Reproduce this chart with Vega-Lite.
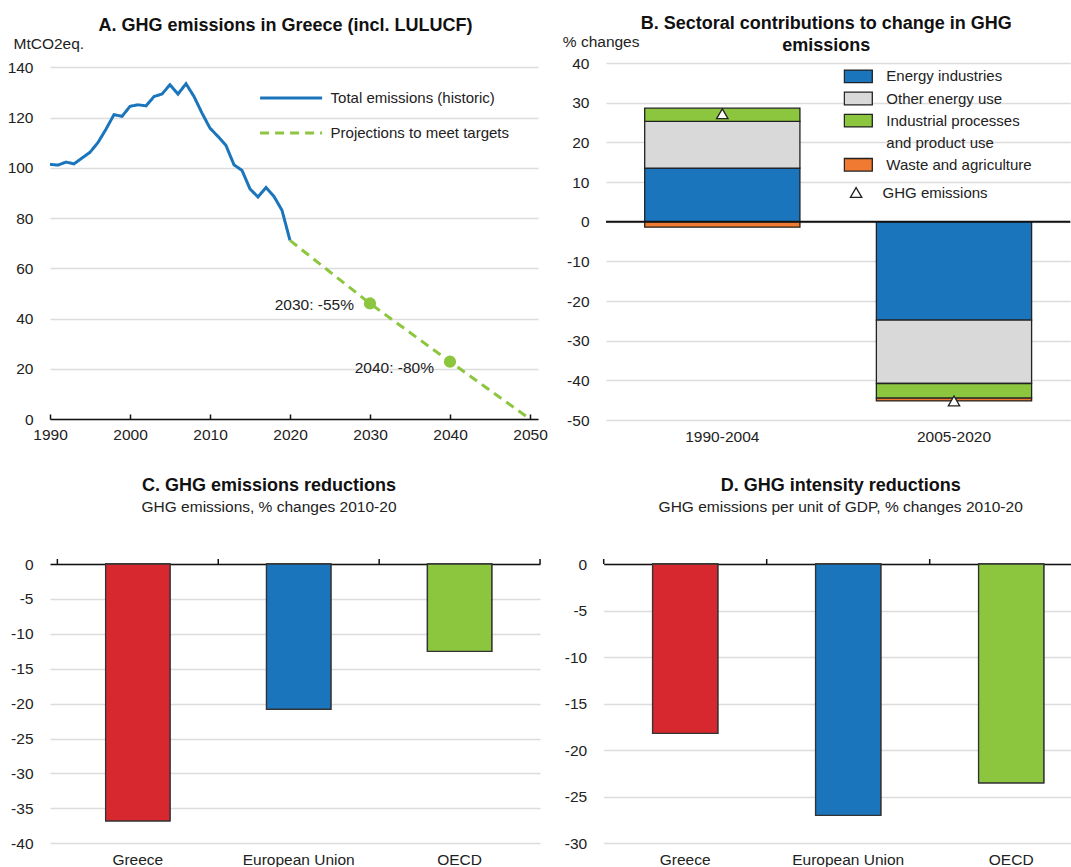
{
  "$schema": "https://vega.github.io/schema/vega-lite/v6.json",
  "background": "white",
  "padding": {"left": 5, "top": 14, "right": 0, "bottom": 0},
  "config": {
    "view": {"stroke": null},
    "font": "Liberation Sans",
    "axis": {"labelFont": "Liberation Sans", "labelFontSize": 15.5, "labelColor": "#222", "labelOverlap": false, "titleFont": "Liberation Sans", "titleFontSize": 15.5, "titleFontWeight": "normal", "titleColor": "#222", "gridColor": "#dcdcdc", "gridWidth": 1.5},
    "title": {"font": "Liberation Sans", "fontSize": 18, "fontWeight": "bold", "color": "#111", "subtitleFont": "Liberation Sans", "subtitleFontSize": 15.5, "subtitleColor": "#222"},
    "legend": {"labelFont": "Liberation Sans", "labelFontSize": 15, "labelColor": "#222"}
  },
  "datasets": {
    "lines": [
      {"year": 1990, "value": 101.4, "series": "Total emissions (historic)"},
      {"year": 1991, "value": 101.1, "series": "Total emissions (historic)"},
      {"year": 1992, "value": 102.3, "series": "Total emissions (historic)"},
      {"year": 1993, "value": 101.6, "series": "Total emissions (historic)"},
      {"year": 1994, "value": 103.9, "series": "Total emissions (historic)"},
      {"year": 1995, "value": 106.2, "series": "Total emissions (historic)"},
      {"year": 1996, "value": 110.1, "series": "Total emissions (historic)"},
      {"year": 1997, "value": 115.4, "series": "Total emissions (historic)"},
      {"year": 1998, "value": 121.2, "series": "Total emissions (historic)"},
      {"year": 1999, "value": 120.5, "series": "Total emissions (historic)"},
      {"year": 2000, "value": 124.5, "series": "Total emissions (historic)"},
      {"year": 2001, "value": 125.1, "series": "Total emissions (historic)"},
      {"year": 2002, "value": 124.7, "series": "Total emissions (historic)"},
      {"year": 2003, "value": 128.4, "series": "Total emissions (historic)"},
      {"year": 2004, "value": 129.4, "series": "Total emissions (historic)"},
      {"year": 2005, "value": 133.1, "series": "Total emissions (historic)"},
      {"year": 2006, "value": 129.4, "series": "Total emissions (historic)"},
      {"year": 2007, "value": 133.5, "series": "Total emissions (historic)"},
      {"year": 2008, "value": 128.4, "series": "Total emissions (historic)"},
      {"year": 2009, "value": 121.8, "series": "Total emissions (historic)"},
      {"year": 2010, "value": 115.8, "series": "Total emissions (historic)"},
      {"year": 2011, "value": 112.5, "series": "Total emissions (historic)"},
      {"year": 2012, "value": 108.9, "series": "Total emissions (historic)"},
      {"year": 2013, "value": 101.2, "series": "Total emissions (historic)"},
      {"year": 2014, "value": 99.0, "series": "Total emissions (historic)"},
      {"year": 2015, "value": 91.6, "series": "Total emissions (historic)"},
      {"year": 2016, "value": 88.4, "series": "Total emissions (historic)"},
      {"year": 2017, "value": 92.2, "series": "Total emissions (historic)"},
      {"year": 2018, "value": 88.6, "series": "Total emissions (historic)"},
      {"year": 2019, "value": 83.1, "series": "Total emissions (historic)"},
      {"year": 2020, "value": 71.1, "series": "Total emissions (historic)"},
      {"year": 2020, "value": 71.1, "series": "Projections to meet targets"},
      {"year": 2030, "value": 46.0, "series": "Projections to meet targets"},
      {"year": 2040, "value": 22.8, "series": "Projections to meet targets"},
      {"year": 2050, "value": 0, "series": "Projections to meet targets"}
    ],
    "targets": [
      {"year": 2030, "value": 46.0, "label": "2030: -55%"},
      {"year": 2040, "value": 22.8, "label": "2040: -80%"}
    ],
    "sectors": [
      {"period": "1990-2004", "sector": "Energy industries", "value": 13.5, "order": 1},
      {"period": "1990-2004", "sector": "Other energy use", "value": 11.8, "order": 2},
      {"period": "1990-2004", "sector": "Industrial processes and product use", "value": 3.3, "order": 3},
      {"period": "1990-2004", "sector": "Waste and agriculture", "value": -1.4, "order": 4},
      {"period": "2005-2020", "sector": "Energy industries", "value": -24.8, "order": 1},
      {"period": "2005-2020", "sector": "Other energy use", "value": -16.0, "order": 2},
      {"period": "2005-2020", "sector": "Industrial processes and product use", "value": -3.7, "order": 3},
      {"period": "2005-2020", "sector": "Waste and agriculture", "value": -0.7, "order": 4}
    ],
    "totals": [
      {"period": "1990-2004", "total": 27.2, "measure": "GHG emissions"},
      {"period": "2005-2020", "total": -45.2, "measure": "GHG emissions"}
    ],
    "reductions": [
      {"country": "Greece", "emissions": -36.8, "intensity": -18.2},
      {"country": "European Union", "emissions": -20.8, "intensity": -27.0},
      {"country": "OECD", "emissions": -12.5, "intensity": -23.5}
    ]
  },
  "spacing": 31,
  "resolve": {
    "scale": {"color": "independent", "fill": "independent", "stroke": "independent", "shape": "independent", "strokeDash": "independent"},
    "legend": {"color": "independent", "fill": "independent", "stroke": "independent", "shape": "independent", "strokeDash": "independent"}
  },
  "vconcat": [
    {
      "spacing": 14,
      "resolve": {
        "scale": {"color": "independent", "fill": "independent", "stroke": "independent", "shape": "independent", "strokeDash": "independent"},
        "legend": {"color": "independent", "fill": "independent", "stroke": "independent", "shape": "independent", "strokeDash": "independent"}
      },
      "hconcat": [
        {
          "width": 488,
          "height": 356,
          "title": {"text": "A. GHG emissions in Greece (incl. LULUCF)", "frame": "group", "dx": -8.5, "offset": 2},
          "layer": [
            {
              "data": {"name": "lines"},
              "mark": {"type": "line", "strokeWidth": 3},
              "encoding": {
                "x": {"field": "year", "type": "quantitative",
                  "scale": {"domain": [1990, 2051], "nice": false, "zero": false},
                  "axis": {"values": [1990, 2000, 2010, 2020, 2030, 2040, 2050], "tickCount": 20, "format": "d", "grid": false, "labelFlush": false,
                    "domainColor": "#111", "domainWidth": 1.5, "tickColor": "#111", "tickWidth": 1.5, "tickSize": -5, "labelPadding": 13.25,
                    "title": " ", "titleX": -45, "titleY": 5, "titleAlign": "left", "titleBaseline": "top"}},
                "y": {"field": "value", "type": "quantitative",
                  "scale": {"domain": [0, 141.75], "nice": false},
                  "axis": {"values": [0, 20, 40, 60, 80, 100, 120, 140], "tickCount": 20, "domain": false, "ticks": false, "labelPadding": 17, "labelOverlap": false,
                    "title": "MtCO2eq.", "titleAngle": 0, "titleAlign": "left", "titleBaseline": "middle", "titleX": -37, "titleY": -19.3}},
                "color": {"field": "series", "type": "nominal",
                  "scale": {"domain": ["Total emissions (historic)", "Projections to meet targets"], "range": ["#1a75bc", "#8cc63e"]},
                  "legend": {"orient": "none", "legendX": 208.6, "legendY": 26, "title": null, "symbolType": "stroke", "symbolSize": 3844, "symbolStrokeWidth": 3, "labelOffset": 7, "rowPadding": 17, "padding": 0, "labelLimit": 300, "clipHeight": 18}},
                "strokeDash": {"field": "series", "type": "nominal",
                  "scale": {"domain": ["Total emissions (historic)", "Projections to meet targets"], "range": [[1, 0], [9, 6]]},
                  "legend": {"orient": "none", "legendX": 208.6, "legendY": 26, "title": null, "symbolType": "stroke", "symbolSize": 3844, "symbolStrokeWidth": 3, "labelOffset": 7, "rowPadding": 17, "padding": 0, "labelLimit": 300, "clipHeight": 18}}
              }
            },
            {
              "data": {"name": "targets"},
              "mark": {"type": "circle", "size": 150, "color": "#8cc63e", "opacity": 1},
              "encoding": {
                "x": {"field": "year", "type": "quantitative"},
                "y": {"field": "value", "type": "quantitative"}
              }
            },
            {
              "data": {"name": "targets"},
              "transform": [{"filter": "datum.year == 2030"}],
              "mark": {"type": "text", "align": "right", "baseline": "middle", "dx": -16, "dy": 1.5, "fontSize": 15.5, "font": "Liberation Sans", "color": "#222"},
              "encoding": {
                "x": {"field": "year", "type": "quantitative"},
                "y": {"field": "value", "type": "quantitative"},
                "text": {"field": "label"}
              }
            },
            {
              "data": {"name": "targets"},
              "transform": [{"filter": "datum.year == 2040"}],
              "mark": {"type": "text", "align": "right", "baseline": "middle", "dx": -16, "dy": 6, "fontSize": 15.5, "font": "Liberation Sans", "color": "#222"},
              "encoding": {
                "x": {"field": "year", "type": "quantitative"},
                "y": {"field": "value", "type": "quantitative"},
                "text": {"field": "label"}
              }
            }
          ]
        },
        {
          "width": 464.3,
          "height": 357,
          "title": {"text": ["B. Sectoral contributions to change in GHG", "emissions"], "frame": "group", "dx": -12, "offset": -21, "lineHeight": 22.5},
          "resolve": {
            "scale": {"stroke": "independent", "fill": "independent", "shape": "independent"},
            "legend": {"stroke": "independent", "fill": "independent", "shape": "independent"}
          },
          "layer": [
            {
              "data": {"name": "sectors"},
              "mark": {"type": "bar", "strokeWidth": 1.3},
              "encoding": {
                "x": {"field": "period", "type": "nominal", "scale": {"paddingInner": 0.33, "paddingOuter": 0.167},
                  "axis": {"title": null, "domain": false, "ticks": false, "labelAngle": 0, "labelPadding": 9.25}},
                "y": {"field": "value", "type": "quantitative", "stack": "zero",
                  "scale": {"domain": [-50, 40], "nice": false},
                  "axis": {"values": [-50, -40, -30, -20, -10, 0, 10, 20, 30, 40], "tickCount": 20, "domain": false, "ticks": false, "labelPadding": 17, "labelOverlap": false,
                    "labelExpr": "datum.value < 0 ? '-' + format(-datum.value, 'd') : format(datum.value, 'd')",
                    "title": "% changes", "titleAngle": 0, "titleAlign": "left", "titleBaseline": "middle", "titleX": -43.7, "titleY": -21.6}},
                "fill": {"field": "sector", "type": "nominal",
                  "scale": {"domain": ["Energy industries", "Other energy use", "Industrial processes and product use", "and product use", "Waste and agriculture"], "range": ["#1a75bc", "#d9d9d9", "#8cc63e", "transparent", "#f07a31"]},
                  "legend": {"orient": "none", "legendX": 237.3, "legendY": 2.4, "title": null, "symbolType": "M-1,-0.45L1,-0.45L1,0.45L-1,0.45Z", "symbolSize": 784, "symbolStrokeWidth": 1.3, "labelOffset": 13, "labelBaseline": "middle", "rowPadding": 0.1, "clipHeight": 22, "padding": 0, "labelLimit": 300,
                    "labelExpr": "datum.label == 'Industrial processes and product use' ? 'Industrial processes' : datum.label"}},
                "stroke": {"field": "sector", "type": "nominal",
                  "scale": {"domain": ["Energy industries", "Other energy use", "Industrial processes and product use", "and product use", "Waste and agriculture"], "range": ["#222222", "#222222", "#222222", "transparent", "#222222"]},
                  "legend": {"orient": "none", "legendX": 237.3, "legendY": 2.4, "title": null, "symbolType": "M-1,-0.45L1,-0.45L1,0.45L-1,0.45Z", "symbolSize": 784, "symbolStrokeWidth": 1.3, "labelOffset": 13, "labelBaseline": "middle", "rowPadding": 0.1, "clipHeight": 22, "padding": 0, "labelLimit": 300,
                    "labelExpr": "datum.label == 'Industrial processes and product use' ? 'Industrial processes' : datum.label"}},
                "order": {"field": "order", "type": "quantitative"}
              }
            },
            {
              "data": {"values": [{}]},
              "mark": {"type": "rule", "color": "#111", "strokeWidth": 2},
              "encoding": {"y": {"datum": 0}}
            },
            {
              "data": {"name": "totals"},
              "mark": {"type": "point", "filled": false, "fill": "white", "strokeWidth": 1.3, "size": 130, "opacity": 1},
              "encoding": {
                "x": {"field": "period", "type": "nominal"},
                "y": {"field": "total", "type": "quantitative"},
                "shape": {"field": "measure", "type": "nominal", "scale": {"domain": ["GHG emissions"], "range": ["triangle-up"]},
                  "legend": {"orient": "none", "legendX": 242.6, "legendY": 122, "title": null, "symbolSize": 130, "symbolStrokeWidth": 1.3, "labelOffset": 19, "padding": 0}},
                "stroke": {"field": "measure", "type": "nominal", "scale": {"domain": ["GHG emissions"], "range": ["#222222"]},
                  "legend": {"orient": "none", "legendX": 242.6, "legendY": 122, "title": null, "symbolSize": 130, "symbolStrokeWidth": 1.3, "labelOffset": 19, "padding": 0}}
              }
            }
          ]
        }
      ]
    },
    {
      "spacing": 14.7,
      "resolve": {
        "scale": {"color": "independent", "fill": "independent", "stroke": "independent", "shape": "independent", "strokeDash": "independent"},
        "legend": {"color": "independent", "fill": "independent", "stroke": "independent", "shape": "independent", "strokeDash": "independent"}
      },
      "hconcat": [
        {
          "width": 490,
          "height": 279.3,
          "title": {"text": "C. GHG emissions reductions", "subtitle": "GHG emissions, % changes 2010-20", "frame": "group", "dx": -26, "offset": 42, "subtitlePadding": 5},
          "data": {"name": "reductions"},
          "layer": [
            {
              "mark": {"type": "bar", "stroke": "#333", "strokeWidth": 1.3},
              "encoding": {
                "x": {"field": "country", "type": "nominal", "sort": null, "scale": {"paddingInner": 0.6, "paddingOuter": 0.3227, "align": 0.5357},
                  "axis": {"orient": "bottom", "title": null, "domain": false, "ticks": false, "labelAngle": 0, "labelPadding": 9.25}},
                "y": {"field": "emissions", "type": "quantitative", "scale": {"domain": [-40, 0], "nice": false},
                  "axis": {"values": [-40, -35, -30, -25, -20, -15, -10, -5, 0], "tickCount": 20, "domain": false, "ticks": false, "labelPadding": 17, "labelOverlap": false,
                    "labelExpr": "datum.value < 0 ? '-' + format(-datum.value, 'd') : format(datum.value, 'd')",
                    "title": " ", "titleAngle": 0, "titleAlign": "left", "titleBaseline": "middle", "titleX": -45, "titleY": 0}},
                "fill": {"field": "country", "type": "nominal", "scale": {"domain": ["Greece", "European Union", "OECD"], "range": ["#d7282f", "#1a75bc", "#8cc63e"]}, "legend": null}
              }
            },
            {
              "mark": {"type": "bar", "stroke": "#333", "strokeWidth": 1.3},
              "encoding": {
                "x": {"field": "country", "type": "nominal", "sort": null,
                  "axis": {"orient": "top", "title": null, "labels": false, "domainColor": "#111", "domainWidth": 1.5, "ticks": false}},
                "y": {"field": "emissions", "type": "quantitative"},
                "fill": {"field": "country", "type": "nominal", "legend": null}
              }
            },
            {
              "mark": {"type": "rule", "color": "#111", "strokeWidth": 1.5},
              "encoding": {
                "x": {"field": "country", "type": "nominal", "sort": null, "bandPosition": -0.75, "axis": null},
                "y": {"datum": 0},
                "y2": {"datum": 0.72}
              }
            },
            {
              "transform": [{"filter": "datum.country == 'OECD'"}],
              "mark": {"type": "rule", "color": "#111", "strokeWidth": 1.5},
              "encoding": {
                "x": {"field": "country", "type": "nominal", "sort": null, "bandPosition": 1.75, "axis": null},
                "y": {"datum": 0},
                "y2": {"datum": 0.72}
              }
            }
          ],
          "resolve": {"axis": {"x": "independent"}}
        },
        {
          "width": 489,
          "height": 279.3,
          "title": {"text": "D. GHG intensity reductions", "subtitle": "GHG emissions per unit of GDP, % changes 2010-20", "frame": "group", "dx": -7.5, "offset": 42, "subtitlePadding": 5},
          "data": {"name": "reductions"},
          "layer": [
            {
              "mark": {"type": "bar", "stroke": "#333", "strokeWidth": 1.3},
              "encoding": {
                "x": {"field": "country", "type": "nominal", "sort": null, "scale": {"paddingInner": 0.6, "paddingOuter": 0.3},
                  "axis": {"orient": "bottom", "title": null, "domain": false, "ticks": false, "labelAngle": 0, "labelPadding": 9.25}},
                "y": {"field": "intensity", "type": "quantitative", "scale": {"domain": [-30, 0], "nice": false},
                  "axis": {"values": [-30, -25, -20, -15, -10, -5, 0], "tickCount": 20, "domain": false, "ticks": false, "labelPadding": 17, "labelOverlap": false,
                    "labelExpr": "datum.value < 0 ? '-' + format(-datum.value, 'd') : format(datum.value, 'd')",
                    "title": " ", "titleAngle": 0, "titleAlign": "left", "titleBaseline": "middle", "titleX": -48, "titleY": 0}},
                "fill": {"field": "country", "type": "nominal", "scale": {"domain": ["Greece", "European Union", "OECD"], "range": ["#d7282f", "#1a75bc", "#8cc63e"]}, "legend": null}
              }
            },
            {
              "mark": {"type": "bar", "stroke": "#333", "strokeWidth": 1.3},
              "encoding": {
                "x": {"field": "country", "type": "nominal", "sort": null,
                  "axis": {"orient": "top", "title": null, "labels": false, "domainColor": "#111", "domainWidth": 1.5, "ticks": false}},
                "y": {"field": "intensity", "type": "quantitative"},
                "fill": {"field": "country", "type": "nominal", "legend": null}
              }
            },
            {
              "mark": {"type": "rule", "color": "#111", "strokeWidth": 1.5},
              "encoding": {
                "x": {"field": "country", "type": "nominal", "sort": null, "bandPosition": -0.75, "axis": null},
                "y": {"datum": 0},
                "y2": {"datum": 0.54}
              }
            }
          ],
          "resolve": {"axis": {"x": "independent"}}
        }
      ]
    }
  ]
}
